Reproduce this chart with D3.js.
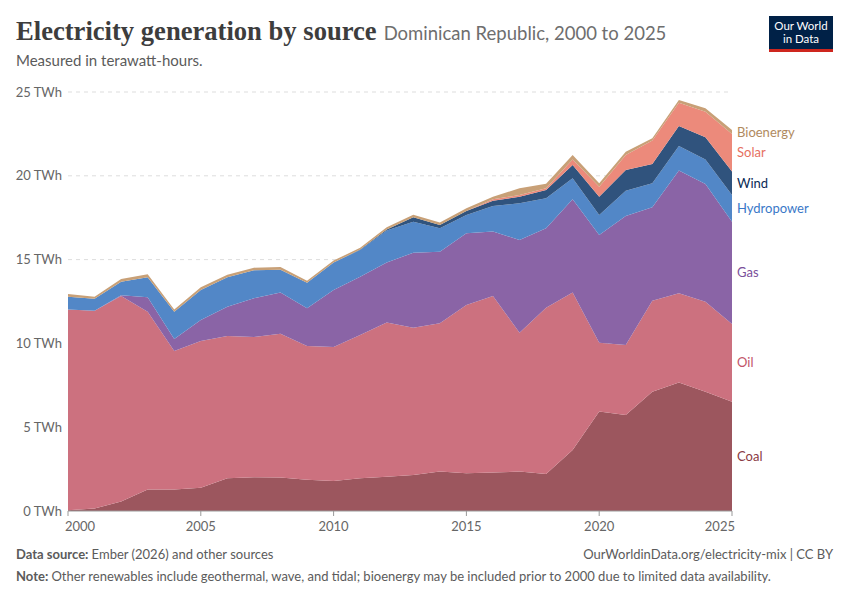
<!DOCTYPE html>
<html>
<head>
<meta charset="utf-8">
<script src="https://cdn.jsdelivr.net/npm/d3@7"></script>
<style>
  body { margin: 0; background: #fff; }
  text { font-family: Lato, "Noto Sans", sans-serif; }
</style>
</head>
<body>
<div id="chart"></div>
<script>
// values in TWh
var years = [2000, 2001, 2002, 2003, 2004, 2005, 2006, 2007, 2008, 2009, 2010, 2011, 2012,
             2013, 2014, 2015, 2016, 2017, 2018, 2019, 2020, 2021, 2022, 2023, 2024, 2025];
var coal  = [0.05, 0.15, 0.56, 1.29, 1.29, 1.39, 1.95, 2.01, 2.0, 1.87, 1.79, 1.95, 2.05,
             2.15, 2.35, 2.25, 2.29, 2.35, 2.21, 3.64, 5.93, 5.73, 7.12, 7.66, 7.12, 6.52];
var oil   = [11.98, 11.8, 12.27, 10.6, 8.26, 8.75, 8.49, 8.37, 8.58, 7.97, 7.99, 8.55, 9.19,
             8.79, 8.85, 10.04, 10.54, 8.29, 9.92, 9.39, 4.11, 4.17, 5.43, 5.33, 5.37, 4.64];
var gas   = [0, 0, 0.05, 0.86, 0.71, 1.26, 1.75, 2.31, 2.45, 2.25, 3.41, 3.48, 3.58,
             4.47, 4.27, 4.28, 3.84, 5.53, 4.74, 5.57, 6.43, 7.7, 5.57, 7.32, 7.02, 6.1];
var hydro = [0.76, 0.72, 0.8, 1.19, 1.63, 1.79, 1.75, 1.67, 1.37, 1.53, 1.63, 1.59, 1.91,
             1.85, 1.4, 1.09, 1.53, 2.19, 1.79, 1.25, 1.19, 1.51, 1.43, 1.47, 1.47, 1.59];
var wind  = [0, 0, 0, 0, 0, 0, 0, 0, 0, 0, 0, 0.03, 0.07,
             0.26, 0.19, 0.24, 0.31, 0.39, 0.49, 0.79, 1.09, 1.24, 1.15, 1.19, 1.32, 1.4];
var solar = [0, 0, 0, 0, 0, 0, 0, 0, 0, 0, 0, 0, 0,
             0, 0, 0, 0.09, 0.1, 0.1, 0.34, 0.6, 0.89, 1.4, 1.39, 1.52, 2.24];
var bio   = [0.16, 0.12, 0.16, 0.18, 0.14, 0.16, 0.16, 0.16, 0.16, 0.12, 0.12, 0.11, 0.13,
             0.16, 0.16, 0.16, 0.15, 0.4, 0.28, 0.26, 0.2, 0.2, 0.14, 0.16, 0.21, 0.24];

var sources    = ["Coal", "Oil", "Gas", "Hydropower", "Wind", "Solar", "Bioenergy"];
var fills      = ["#9c565e", "#cc717f", "#8a64a6", "#5287c7", "#30537d", "#ec8a7b", "#c8a077"];
var labelCols  = ["#8a3a44", "#c25468", "#7a4f9a", "#3a78c8", "#0a2a55", "#e6705f", "#b08a60"];
var yTicks     = [0, 5, 10, 15, 20, 25];
var xTicks     = [2000, 2005, 2010, 2015, 2020, 2025];

var series = [coal, oil, gas, hydro, wind, solar, bio];

// rows for d3.stack
var rows = years.map(function(y, i) {
    var r = { year: y };
    sources.forEach(function(s, k) { r[s] = series[k][i]; });
    return r;
});

var W = 850, H = 600;
var margin = { left: 68, right: 118, top: 92, bottom: 89 };

var svg = d3.select("#chart").append("svg")
    .attr("width", W).attr("height", H);

var x = d3.scaleLinear().domain([2000, 2025]).range([margin.left, W - margin.right]);
var y = d3.scaleLinear().domain([0, 25]).range([H - margin.bottom, margin.top]);

// header
svg.append("text")
    .attr("x", 16).attr("y", 40)
    .style("font-family", "'Liberation Serif', 'DejaVu Serif', serif")
    .style("font-weight", "bold")
    .style("font-size", "26.6px")
    .attr("fill", "#3d3d3d")
    .text("Electricity generation by source")
  .append("tspan")
    .attr("dx", 7)
    .style("font-family", "Lato, sans-serif")
    .style("font-weight", "normal")
    .style("font-size", "18.5px")
    .attr("fill", "#6e6e6e")
    .text("Dominican Republic, 2000 to 2025");

svg.append("text")
    .attr("x", 16).attr("y", 66)
    .style("font-size", "15px")
    .attr("fill", "#5b5b5b")
    .text("Measured in terawatt-hours.");

// logo
var logo = svg.append("g").attr("transform", "translate(769,16)");
logo.append("rect").attr("width", 64).attr("height", 36).attr("fill", "#002147");
logo.append("rect").attr("y", 33).attr("width", 64).attr("height", 3).attr("fill", "#ce261e");
logo.append("text").attr("x", 32).attr("y", 14).attr("text-anchor", "middle")
    .attr("fill", "#fff").style("font-size", "11.5px").text("Our World");
logo.append("text").attr("x", 32).attr("y", 27).attr("text-anchor", "middle")
    .attr("fill", "#fff").style("font-size", "11.5px").text("in Data");

// grid + y labels
svg.selectAll(".grid")
    .data(yTicks.filter(function(d) { return d > 0; }))
    .enter().append("line")
    .attr("class", "grid")
    .attr("x1", margin.left).attr("x2", W - margin.right)
    .attr("y1", function(d) { return y(d); })
    .attr("y2", function(d) { return y(d); })
    .attr("stroke", "#dddddd")
    .attr("stroke-dasharray", "4,4");

svg.selectAll(".ylab")
    .data(yTicks)
    .enter().append("text")
    .attr("class", "ylab")
    .attr("x", 62)
    .attr("y", function(d) { return y(d); })
    .attr("dy", "0.35em")
    .attr("text-anchor", "end")
    .attr("fill", "#666")
    .style("font-size", "13px")
    .text(function(d) { return d + " TWh"; });

// stacked areas
var stack = d3.stack().keys(sources);
var layers = stack(rows);

var area = d3.area()
    .x(function(d) { return x(d.data.year); })
    .y0(function(d) { return y(d[0]); })
    .y1(function(d) { return y(d[1]); });

svg.selectAll(".layer")
    .data(layers)
    .enter().append("path")
    .attr("class", "layer")
    .attr("d", area)
    .attr("fill", function(d, i) { return fills[i]; });

// x axis
svg.append("line")
    .attr("x1", margin.left).attr("x2", W - margin.right)
    .attr("y1", y(0)).attr("y2", y(0))
    .attr("stroke", "#999");

svg.selectAll(".xtick")
    .data(xTicks)
    .enter().append("line")
    .attr("x1", function(d) { return x(d); })
    .attr("x2", function(d) { return x(d); })
    .attr("y1", y(0)).attr("y2", y(0) + 5)
    .attr("stroke", "#999");

svg.selectAll(".xlab")
    .data(xTicks)
    .enter().append("text")
    .attr("x", function(d) { return x(d); })
    .attr("y", y(0) + 20)
    .attr("text-anchor", function(d, i) {
        return i == 0 ? "start" : (i == xTicks.length - 1 ? "end" : "middle");
    })
    .attr("dx", function(d, i) { return i == 0 ? -3 : (i == xTicks.length - 1 ? 3 : 0); })
    .attr("fill", "#666")
    .style("font-size", "13px")
    .text(function(d) { return d; });

// series labels at the last year, middle of each band
var last = layers.map(function(l, i) {
    var p = l[l.length - 1];
    return { name: sources[i], col: labelCols[i], y: y((p[0] + p[1]) / 2) };
});
// push apart labels that would overlap (top to bottom)
var sorted = last.slice().sort(function(a, b) { return a.y - b.y; });
for (var k = 1; k < sorted.length; k++) {
    if (sorted[k].y - sorted[k - 1].y < 16) sorted[k].y = sorted[k - 1].y + 16;
}
svg.selectAll(".slab")
    .data(last)
    .enter().append("text")
    .attr("x", W - margin.right + 5)
    .attr("y", function(d) { return d.y; })
    .attr("dy", "0.35em")
    .attr("fill", function(d) { return d.col; })
    .style("font-size", "13px")
    .text(function(d) { return d.name; });

// footer
var src = svg.append("text").attr("x", 16).attr("y", 559)
    .attr("fill", "#5b5b5b").style("font-size", "13px");
src.append("tspan").style("font-weight", "bold").text("Data source: ");
src.append("tspan").text("Ember (2026) and other sources");

svg.append("text").attr("x", 833).attr("y", 559).attr("text-anchor", "end")
    .attr("fill", "#5b5b5b").style("font-size", "13px")
    .text("OurWorldinData.org/electricity-mix | CC BY");

var note = svg.append("text").attr("x", 16).attr("y", 581)
    .attr("fill", "#5b5b5b").style("font-size", "13px");
note.append("tspan").style("font-weight", "bold").text("Note: ");
note.append("tspan").text("Other renewables include geothermal, wave, and tidal; bioenergy may be included prior to 2000 due to limited data availability.");
</script>
</body>
</html>
